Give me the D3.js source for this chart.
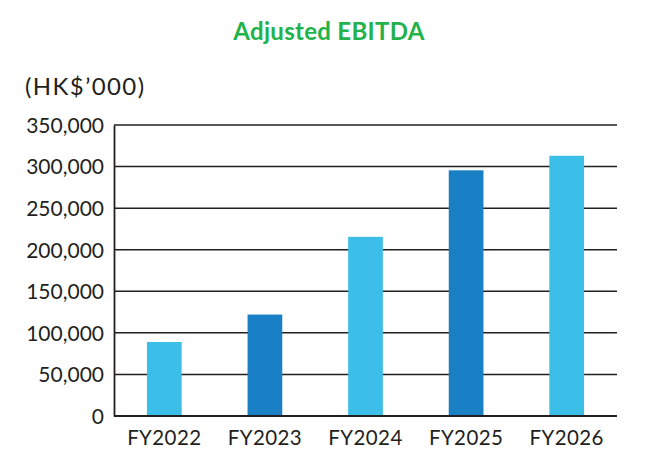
<!DOCTYPE html>
<html>
<head>
<meta charset="utf-8">
<script src="https://cdn.jsdelivr.net/npm/d3@7"></script>
<style>
  html, body { margin: 0; padding: 0; background: #fff; }
  svg text { font-family: Lato, "Noto Sans", sans-serif; fill: #231f20; }
</style>
</head>
<body>
<div id="chart"></div>
<script>
(() => {
  // === chart data ===
  const title = "Adjusted EBITDA";
  const unitLabel = "(HK$\u2019000)";
  const years = ["FY2022", "FY2023", "FY2024", "FY2025", "FY2026"];
  const ebitda = [89000, 122000, 215500, 295500, 313000];
  const yTicks = [0, 50000, 100000, 150000, 200000, 250000, 300000, 350000];

  const width = 647;
  const height = 471;
  const margin = { top: 125, right: 30, bottom: 55, left: 114 };

  const lightBlue = "#3bbee8";
  const darkBlue = "#1a80c5";
  const ink = "#231f20";

  const svg = d3
    .select("#chart")
    .append("svg")
    .attr("width", width)
    .attr("height", height);

  const x = d3
    .scaleBand()
    .domain(years)
    .range([margin.left, width - margin.right])
    .paddingInner(0.655)
    .paddingOuter(0.3275);

  const y = d3
    .scaleLinear()
    .domain([0, 350000])
    .range([height - margin.bottom, margin.top]);

  // title + unit
  svg.append("text")
    .attr("x", 329)
    .attr("y", 40)
    .attr("text-anchor", "middle")
    .style("font-weight", 700)
    .style("font-size", "24px")
    .style("letter-spacing", "0.3px")
    .style("fill", "#22b24c")
    .text(title);

  svg.append("text")
    .attr("x", 25)
    .attr("y", 95)
    .style("font-size", "24px")
    .style("letter-spacing", "1.4px")
    .text(unitLabel);

  // gridlines
  svg.append("g")
    .selectAll("line")
    .data(yTicks)
    .join("line")
    .attr("x1", margin.left)
    .attr("x2", width - margin.right)
    .attr("y1", (d) => y(d))
    .attr("y2", (d) => y(d))
    .attr("stroke", ink)
    .attr("stroke-width", 1.5);

  // bars
  svg.append("g")
    .selectAll("rect")
    .data(years)
    .join("rect")
    .attr("x", (d) => x(d))
    .attr("width", x.bandwidth())
    .attr("y", (d, i) => y(ebitda[i]))
    .attr("height", (d, i) => y(0) - y(ebitda[i]))
    .attr("fill", (d, i) => (i % 2 ? darkBlue : lightBlue));

  // baseline redrawn over bars
  svg.append("line")
    .attr("x1", margin.left)
    .attr("x2", width - margin.right)
    .attr("y1", y(0))
    .attr("y2", y(0))
    .attr("stroke", ink)
    .attr("stroke-width", 1.8);

  // y axis
  const yAxis = svg.append("g")
    .attr("transform", `translate(${margin.left},0)`)
    .call(
      d3.axisLeft(y)
        .tickValues(yTicks)
        .tickSize(0)
        .tickPadding(10)
        .tickFormat(d3.format(","))
    );
  yAxis.select(".domain").attr("stroke", ink).attr("stroke-width", 1.8);
  yAxis.selectAll("text").style("font-size", "21px").attr("dy", "0.35em");

  // x axis
  const xAxis = svg.append("g")
    .attr("transform", `translate(0,${y(0)})`)
    .call(d3.axisBottom(x).tickSize(0).tickPadding(14));
  xAxis.select(".domain").remove();
  xAxis.selectAll("text").style("font-size", "20.5px").style("letter-spacing", "0.4px");
})();
</script>
</body>
</html>
